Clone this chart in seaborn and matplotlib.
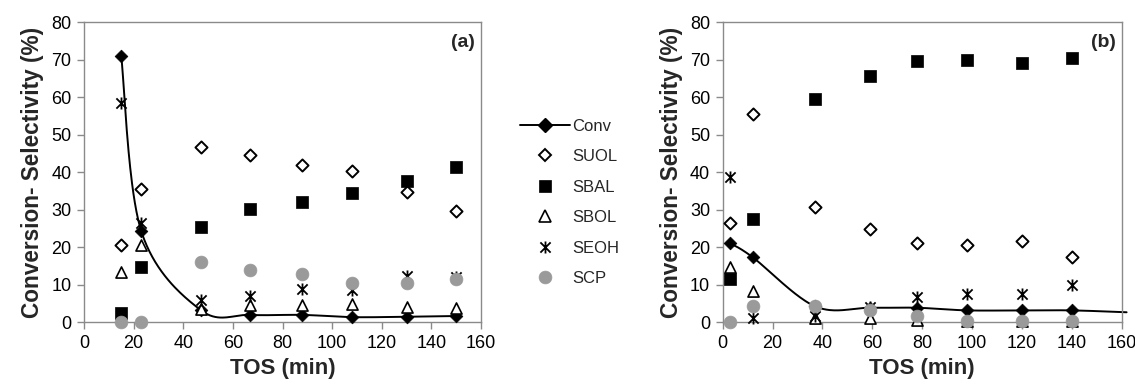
import numpy as np
import pandas as pd
import matplotlib
matplotlib.use("Agg")
import matplotlib.pyplot as plt
from matplotlib.path import Path
from matplotlib.lines import Line2D
import seaborn as sns

# ---------------- data ----------------
tos_a = [15, 23, 47, 67, 88, 108, 130, 150]
conv_a = [71.0, 24.4, 3.2, 1.9, 1.9, 1.3, 1.4, 1.6]
suol_a = [20.5, 35.4, 46.7, 44.5, 41.9, 40.2, 34.8, 29.6]
sbal_a = [2.3, 14.8, 25.3, 30.1, 31.9, 34.5, 37.5, 41.3]
sbol_a = [13.4, 20.5, 3.6, 4.5, 4.5, 4.8, 4.1, 3.8]
seoh_a = [58.3, 26.3, 5.9, 7.0, 8.9, 8.6, 12.3, 12.0]
scp_a = [0.0, 0.0, 16.0, 13.9, 12.8, 10.5, 10.5, 11.5]

tos_b = [3, 12, 37, 59, 78, 98, 120, 140]
conv_b = [21.0, 17.3, 4.2, 3.8, 3.8, 3.1, 3.1, 3.1]
suol_b = [26.5, 55.6, 30.6, 24.8, 21.0, 20.5, 21.6, 17.3]
sbal_b = [11.4, 27.4, 59.4, 65.7, 69.5, 69.9, 69.0, 70.5]
sbol_b = [14.8, 8.4, 1.0, 1.0, 0.5, 0.3, 0.3, 0.3]
seoh_b = [38.7, 1.0, 1.5, 4.0, 6.6, 7.5, 7.5, 10.0]
scp_b = [0.0, 4.3, 4.3, 3.3, 1.7, 0.3, 0.3, 0.3]
# trailing point of the conversion trend line in (b), beyond the last marker
conv_b_tail_x = [162]
conv_b_tail_y = [2.6]

series_names = ["Conv", "SUOL", "SBAL", "SBOL", "SEOH", "SCP"]
x_ticks = [0, 20, 40, 60, 80, 100, 120, 140, 160]
y_ticks = [0, 10, 20, 30, 40, 50, 60, 70, 80]
panel_labels = ["(a)", "(b)"]
x_label = "TOS (min)"
y_label = "Conversion- Selectivity (%)"

# ---------------- style ----------------
sns.set_theme(style="white")
plt.rcParams["font.family"] = ["Liberation Sans", "DejaVu Sans"]

GRAY_SPINE = "#8a8a8a"
SCP_GRAY = "#9a9a9a"

# asterisk-like marker: vertical bar + X
star_path = Path(
    [(0, -1), (0, 1), (-0.85, -0.85), (0.85, 0.85), (-0.85, 0.85), (0.85, -0.85)],
    [Path.MOVETO, Path.LINETO, Path.MOVETO, Path.LINETO, Path.MOVETO, Path.LINETO],
)

styles = {
    "SUOL": dict(marker="D", s=38, color="white", edgecolor="black", linewidth=1.4),
    "SBAL": dict(marker="s", s=72, color="black", edgecolor="black", linewidth=0.5),
    "SBOL": dict(marker="^", s=64, color="white", edgecolor="black", linewidth=1.2),
    "SEOH": dict(marker=star_path, s=75, color="black", edgecolor="black", linewidth=1.3),
    "SCP": dict(marker="o", s=85, color=SCP_GRAY, edgecolor=SCP_GRAY, linewidth=0.5),
}


def smooth_curve(x, y, n=40):
    """Excel-style smoothed line (cubic Bezier, Catmull-Rom control points)."""
    P = np.column_stack([x, y]).astype(float)
    m = len(P)
    out = [P[0]]
    for i in range(m - 1):
        p0 = P[i - 1] if i > 0 else P[i]
        p1 = P[i]
        p2 = P[i + 1]
        p3 = P[i + 2] if i + 2 < m else P[i + 1]
        c1 = p1 + (p2 - p0) / 6.0
        c2 = p2 - (p3 - p1) / 6.0
        t = np.linspace(0, 1, n)[1:, None]
        seg = ((1 - t) ** 3) * p1 + 3 * ((1 - t) ** 2) * t * c1 + 3 * (1 - t) * t ** 2 * c2 + t ** 3 * p2
        out.extend(seg)
    out = np.array(out)
    return out[:, 0], out[:, 1]


fig = plt.figure(figsize=(11.35, 3.89), dpi=100)
ax_a = fig.add_axes([0.0740, 0.1722, 0.3498, 0.7712])
ax_b = fig.add_axes([0.6367, 0.1722, 0.3515, 0.7712])

panels = [
    (ax_a, tos_a, conv_a, suol_a, sbal_a, sbol_a, seoh_a, scp_a, [], []),
    (ax_b, tos_b, conv_b, suol_b, sbal_b, sbol_b, seoh_b, scp_b, conv_b_tail_x, conv_b_tail_y),
]

for idx, (ax, tos, conv, suol, sbal, sbol, seoh, scp, tx, ty) in enumerate(panels):
    lx, ly = smooth_curve(list(tos) + list(tx), list(conv) + list(ty))
    line_df = pd.DataFrame({"x": lx, "y": ly})
    sns.lineplot(data=line_df, x="x", y="y", ax=ax, color="black", lw=1.4,
                 sort=False, estimator=None, clip_on=False, zorder=2)
    conv_df = pd.DataFrame({"x": tos, "y": conv})
    sns.scatterplot(data=conv_df, x="x", y="y", ax=ax, marker="D", s=42,
                    color="black", edgecolor="black", linewidth=0.5, zorder=3, clip_on=False)
    for name, vals in zip(series_names[1:], [suol, sbal, sbol, seoh, scp]):
        df = pd.DataFrame({"x": tos, "y": vals})
        st = styles[name]
        sns.scatterplot(data=df, x="x", y="y", ax=ax, marker=st["marker"], s=st["s"],
                        color=st["color"], edgecolor=st["edgecolor"],
                        linewidth=st["linewidth"], zorder=4, clip_on=False)

    ax.set_xlim(0, 160)
    ax.set_ylim(0, 80)
    ax.set_xticks(x_ticks)
    ax.set_yticks(y_ticks)
    ax.tick_params(axis="both", which="major", direction="out", length=5, width=1,
                   color=GRAY_SPINE, labelsize=13, labelcolor="black", pad=4,
                   bottom=True, left=True)
    for sp in ax.spines.values():
        sp.set_color(GRAY_SPINE)
        sp.set_linewidth(1.0)
        sp.set_visible(True)
    ax.set_xlabel(x_label, fontsize=16, fontweight="bold", labelpad=5)
    ax.set_ylabel(y_label, fontsize=16.3, fontweight="bold", labelpad=5)
    ax.text(0.985, 0.96, panel_labels[idx], transform=ax.transAxes, ha="right", va="top",
            fontsize=14, fontweight="bold")
    ax.grid(False)
    ax.set_facecolor("white")

# legend
handles = [Line2D([], [], color="black", lw=1.4, marker="D", markersize=7.5,
                  markerfacecolor="black", markeredgecolor="black")]
for name in series_names[1:]:
    st = styles[name]
    handles.append(Line2D([], [], ls="none", marker=st["marker"],
                          markersize=np.sqrt(st["s"]),
                          markerfacecolor=st["color"], markeredgecolor=st["edgecolor"],
                          markeredgewidth=st["linewidth"]))
fig.legend(handles, series_names, loc="upper left", bbox_to_anchor=(0.4525, 0.712),
           frameon=False, fontsize=12, handlelength=3.0, handletextpad=0.12,
           labelspacing=0.93, borderaxespad=0)

fig.savefig("out.png", dpi=100, facecolor="white")
